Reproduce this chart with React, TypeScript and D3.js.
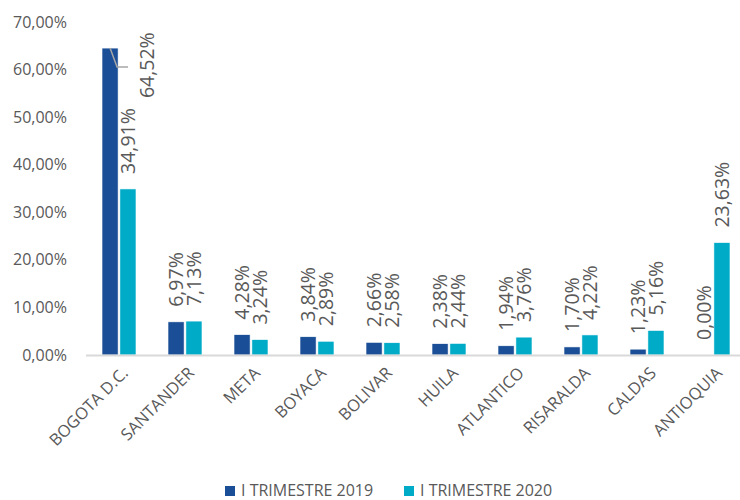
import React from "react";
import * as d3 from "d3";

const categories = ["BOGOTA D.C.", "SANTANDER", "META", "BOYACA", "BOLIVAR", "HUILA", "ATLANTICO", "RISARALDA", "CALDAS", "ANTIOQUIA"];
const series2019 = [64.52, 6.97, 4.28, 3.84, 2.66, 2.38, 1.94, 1.70, 1.23, 0.00];
const series2020 = [34.91, 7.13, 3.24, 2.89, 2.58, 2.44, 3.76, 4.22, 5.16, 23.63];
const seriesNames = ["I TRIMESTRE 2019", "I TRIMESTRE 2020"];
const yTicks = [0, 10, 20, 30, 40, 50, 60, 70];

const COLORS = ["#1A4E96", "#00ABC8"];
const TEXT = "#595959";
const FONT = "'Open Sans', 'Segoe UI', sans-serif";

const fmt = (v: number) => v.toFixed(2).replace(".", ",") + "%";

export default function App() {
  const W = 740, H = 500;
  const x0 = 86, x1 = 746, yTop = 22, yBot = 355;
  const x = d3.scaleBand<string>().domain(categories).range([x0, x1]).paddingInner(0.485).paddingOuter(0.2425);
  const inner = d3.scaleBand<number>().domain([0, 1]).range([0, x.bandwidth()]).paddingInner(0.1);
  const y = d3.scaleLinear().domain([0, 70]).range([yBot, yTop]);
  const data = [series2019, series2020];
  const bw = inner.bandwidth();

  return (
    <svg width={W} height={H} style={{ position: "absolute", left: 0, top: 0, background: "#fff" }} fontFamily={FONT}>
      <rect width={W} height={H} fill="#fff" />
      {yTicks.map((t) => (
        <text key={t} x={67} y={y(t)} dy="0.35em" textAnchor="end" fontSize={16} fill={TEXT}>
          {fmt(t)}
        </text>
      ))}
      {data.map((s, si) =>
        s.map((v, i) => {
          const bx = (x(categories[i]) as number) + (inner(si) as number);
          return (
            <rect key={`${si}-${i}`} x={bx} y={y(v)} width={bw} height={yBot - y(v)} fill={COLORS[si]} stroke="#fff" strokeWidth={0.6} />
          );
        })
      )}
      <line x1={x0} x2={x1} y1={yBot + 0.5} y2={yBot + 0.5} stroke="#D9D9D9" strokeWidth={2} />
      {data.map((s, si) =>
        s.map((v, i) => {
          const cx = (x(categories[i]) as number) + (inner(si) as number) + bw / 2;
          const overflow = y(v) - 15 - 66 < 0;
          if (overflow) {
            const lx = cx + 37;
            const ly = y(v) + 50;
            const elbowY = y(v) + 19;
            return (
              <g key={`l${si}-${i}`}>
                <polyline points={`${cx},${y(v)} ${cx + 7},${elbowY} ${cx + 18},${elbowY}`} fill="none" stroke="#A6A6A6" strokeWidth={1.5} />
                <text transform={`translate(${lx},${ly}) rotate(-90)`} dy="0.35em" fontSize={19.5} fill={TEXT}>
                  {fmt(v)}
                </text>
              </g>
            );
          }
          return (
            <text key={`l${si}-${i}`} transform={`translate(${cx},${y(v) - 15}) rotate(-90)`} dy="0.35em" fontSize={19.5} fill={TEXT}>
              {fmt(v)}
            </text>
          );
        })
      )}
      {categories.map((c) => {
        const cx = (x(c) as number) + x.bandwidth() / 2;
        return (
          <text key={c} transform={`translate(${cx + 6},${yBot + 15}) rotate(-45)`} textAnchor="end" dy="0.35em" fontSize={16.5} fill={TEXT}>
            {c}
          </text>
        );
      })}
      {seriesNames.map((n, i) => {
        const lx = 225 + i * 179;
        return (
          <g key={n}>
            <rect x={lx} y={486} width={10} height={10} fill={COLORS[i]} />
            <text x={lx + 16} y={490} dy="0.35em" fontSize={16} fill={TEXT}>
              {n}
            </text>
          </g>
        );
      })}
    </svg>
  );
}
